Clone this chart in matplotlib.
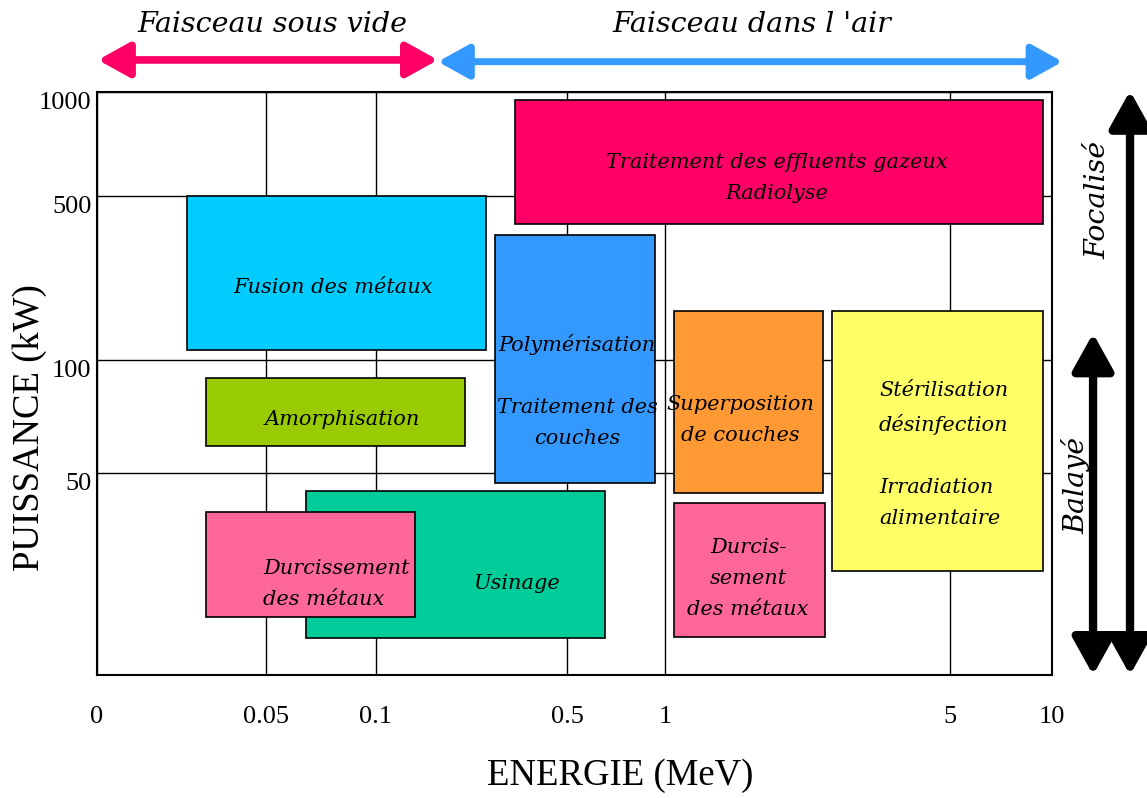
import numpy as np
import matplotlib
matplotlib.use('Agg')
import matplotlib.pyplot as plt
from matplotlib.patches import Rectangle

# axis ticks (the original axis is a hand drawn, non uniform scale)
x_ticks = [0, 0.05, 0.1, 0.5, 1, 5, 10]
x_tick_labels = ['0', '0.05', '0.1', '0.5', '1', '5', '10']
y_ticks = [10, 50, 100, 500, 1000]
y_tick_labels = ['', '50', '100', '500', '1000']

# application domains: energy range (MeV), power range (kW)
e_min = [0.391, 0.0266, 0.349, 0.0322, 0.0682, 0.0322, 1.126, 1.126, 3.344]
e_max = [9.56, 0.330, 0.949, 0.286, 0.694, 0.182, 3.218, 3.246, 9.56]
p_min = [431.7, 124.4, 48.0, 61.9, 17.3, 21.5, 46.0, 17.5, 30.6]
p_max = [961.5, 500.0, 404.9, 92.0, 46.4, 42.3, 219.5, 44.1, 219.5]
colors = ['#ff0066', '#00ccff', '#3399ff', '#99cc00', '#00cc99',
          '#ff6699', '#ff9933', '#ff6699', '#ffff66']

# screen position of each tick (relative units)
x_pos = [0, 169, 279, 470, 568, 853, 955]
y_pos = [0, 202, 315, 479, 583]


def fx(v):
    return np.interp(v, x_ticks, x_pos)


def fx_inv(p):
    return np.interp(p, x_pos, x_ticks)


def fy(v):
    return np.interp(v, y_ticks, y_pos)


def fy_inv(p):
    return np.interp(p, y_pos, y_ticks)


serif = 'Liberation Serif'
ital = dict(family='DejaVu Serif', style='italic')

fig = plt.figure(figsize=(11.47, 7.98), dpi=100)
ax = fig.add_axes([97 / 1147, 1 - 675 / 798, 955 / 1147, 583 / 798])
ax.set_xscale('function', functions=(fx, fx_inv))
ax.set_yscale('function', functions=(fy, fy_inv))
ax.set_xlim(0, 10)
ax.set_ylim(10, 1000)

ax.set_xticks(x_ticks)
ax.set_xticklabels(x_tick_labels, family=serif, fontsize=19)
ax.set_yticks(y_ticks)
ax.set_yticklabels(y_tick_labels, family=serif, fontsize=19, va='top')
ax.minorticks_off()
ax.tick_params(length=0, pad=4)
ax.tick_params(axis='x', pad=22)
ax.grid(True, color='black', lw=1.0)
ax.set_axisbelow(True)
for s in ax.spines.values():
    s.set_linewidth(1.5)

ax.set_xlabel('ENERGIE (MeV)', family=serif, fontsize=26.5, va='center')
ax.xaxis.set_label_coords(0.548, -0.172)
ax.set_ylabel('PUISSANCE (kW)', family=serif, fontsize=26.5, va='center')
ax.yaxis.set_label_coords(-0.070, 0.425)

for i in range(len(colors)):
    ax.add_patch(Rectangle((e_min[i], p_min[i]), e_max[i] - e_min[i],
                           p_max[i] - p_min[i], facecolor=colors[i],
                           edgecolor='black', lw=1.2, zorder=2))

# labels inside the boxes
kw = dict(fontsize=15, linespacing=1.8, va='center', zorder=5, **ital)
ax.text(2.572, 586, 'Traitement des effluents gazeux\nRadiolyse', ha='center', **kw)
ax.text(0.0805, 278, 'Fusion des métaux', ha='center', **kw)
ax.text(0.551, 136.6, 'Polymérisation', ha='center', **kw)
ax.text(0.551, 72.1, 'Traitement des\ncouches', ha='center', **kw)
ax.text(0.0845, 73.5, 'Amorphisation', ha='center', **kw)
ax.text(0.393, 28.2, 'Usinage', ha='center', **kw)
ax.text(0.0491, 28.0, 'Durcissement\ndes métaux', ha='left', **kw)
ax.text(2.053, 73.5, 'Superposition\nde couches', ha='center', **kw)
ax.text(2.165, 29.2, 'Durcis-\nsement\ndes métaux', ha='center', **kw)
ax.text(4.004, 78.8, 'Stérilisation\ndésinfection', ha='left', **kw)
ax.text(4.004, 44.1, 'Irradiation\nalimentaire', ha='left', **kw)


# beam type arrows around the plot
def arrow(x0, y0, x1, y1, c, lw, ms):
    ax.annotate('', xy=(x1, y1), xytext=(x0, y0), xycoords='axes fraction',
                annotation_clip=False,
                arrowprops=dict(arrowstyle='<|-|>,head_length=0.9,head_width=0.5',
                                color=c, lw=lw, mutation_scale=ms,
                                shrinkA=0, shrinkB=0))


arrow(0.001, 1.055, 0.357, 1.055, '#ff0066', 5.5, 21)
arrow(0.357, 1.052, 1.011, 1.052, '#3399ff', 5, 21)
arrow(1.0817, 0.0, 1.0817, 1.002, 'black', 6, 25)
arrow(1.043, 0.0, 1.043, 0.586, 'black', 6, 25)

ax.text(0.184, 1.115, 'Faisceau sous vide', transform=ax.transAxes, ha='center',
        va='center', fontsize=20.5, **ital)
ax.text(0.686, 1.115, "Faisceau dans l 'air", transform=ax.transAxes, ha='center',
        va='center', fontsize=20.5, **ital)
ax.text(1.048, 0.815, 'Focalisé', transform=ax.transAxes, rotation=90, ha='center',
        va='center', fontsize=20.5, **ital)
ax.text(1.025, 0.325, 'Balayé', transform=ax.transAxes, rotation=90, ha='center',
        va='center', fontsize=20.5, **ital)

fig.savefig('out.png', dpi=100)
